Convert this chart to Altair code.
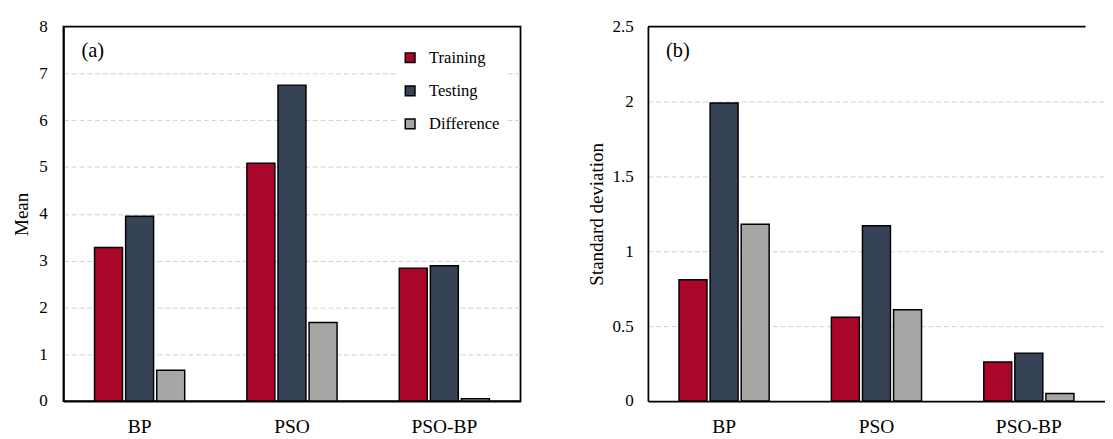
import altair as alt
import pandas as pd

FONT = "Liberation Serif"

categories = ["BP", "PSO", "PSO-BP"]
series = ["Training", "Testing", "Difference"]
colors = ["#A9062A", "#364357", "#A6A6A6"]

mean_training = [3.28, 5.08, 2.84]
mean_testing = [3.95, 6.75, 2.89]
mean_difference = [0.66, 1.68, 0.05]

std_training = [0.81, 0.56, 0.26]
std_testing = [1.99, 1.17, 0.32]
std_difference = [1.18, 0.61, 0.05]

mean_ticks = [0, 1, 2, 3, 4, 5, 6, 7, 8]
std_ticks = [0, 0.5, 1, 1.5, 2, 2.5]

panel_letters = ["(a)", "(b)"]

PLOT_H = 385


def make_df(tr, te, di):
    rows = []
    for i, c in enumerate(categories):
        for s, vals in zip(series, [tr, te, di]):
            rows.append({"Model": c, "Series": s, "Value": vals[i]})
    return pd.DataFrame(rows)


def panel(df, ytitle, ymax, yticks, letter, legend_x, legend_y, width,
          xrange=None, frame=True, title_pad=7, label_pad=16):
    if xrange is None:
        xscale = alt.Scale(paddingInner=0, paddingOuter=0)
    else:
        xscale = alt.Scale(paddingInner=0, paddingOuter=0, range=xrange)
    bars = alt.Chart(df).mark_bar(stroke="black", strokeWidth=1.5).encode(
        x=alt.X("Model:N", sort=categories, scale=xscale,
                axis=alt.Axis(title=None, labelAngle=0, labelFontSize=20,
                              labelPadding=16, ticks=False, domainColor="black",
                              domainWidth=1.8, labelColor="black", labelFont=FONT,
                              grid=False)),
        xOffset=alt.XOffset("Series:N", sort=series,
                            scale=alt.Scale(paddingInner=0.1, paddingOuter=1.0)),
        y=alt.Y("Value:Q", scale=alt.Scale(domain=[0, ymax], nice=False),
                axis=alt.Axis(values=yticks, format="~g", title=ytitle,
                              titleFontSize=19.5, titleFont=FONT,
                              titleFontWeight="normal", titleColor="black",
                              titlePadding=title_pad,
                              labelFontSize=17.5, labelFont=FONT,
                              labelColor="black", labelPadding=label_pad,
                              ticks=False, domainColor="black", domainWidth=1.8,
                              grid=True, gridDash=[5, 3], gridColor="#D0D0D0",
                              gridWidth=1,
                              gridOpacity=alt.condition(
                                  f"datum.value == 0 || datum.value == {ymax}",
                                  alt.value(0), alt.value(1)))),
        color=alt.Color("Series:N", sort=series,
                        scale=alt.Scale(domain=series, range=colors),
                        legend=alt.Legend(title=None, orient="none",
                                          legendX=legend_x, legendY=legend_y,
                                          symbolType="square", symbolSize=100,
                                          symbolStrokeColor="black",
                                          symbolStrokeWidth=1.5,
                                          symbolOpacity=1,
                                          labelFontSize=17, labelFont=FONT,
                                          labelColor="black", labelOffset=11,
                                          rowPadding=16, padding=5,
                                          fillColor="white")),
    )
    letter_text = alt.Chart(pd.DataFrame({"label": [letter]})).mark_text(
        align="left", baseline="middle", fontSize=21, font=FONT, color="black"
    ).encode(x=alt.value(18.5), y=alt.value(25.5), text="label:N")
    layers = [bars, letter_text]
    if not frame:
        top_rule = alt.Chart(pd.DataFrame({"label": [letter]})).mark_rule(
            color="black", strokeWidth=1.8
        ).encode(x=alt.value(0), x2=alt.value("width"), y=alt.value(0))
        layers.append(top_rule)
    view = alt.ViewBackground(stroke="black", strokeWidth=1.8) if frame else \
        alt.ViewBackground(stroke="transparent", strokeWidth=0)
    return alt.layer(*layers).properties(width=width, height=PLOT_H, view=view)


left = panel(make_df(mean_training, mean_testing, mean_difference),
             "Mean", 8, mean_ticks, panel_letters[0], 343, 18.5, 470,
             frame=True, title_pad=7.5, label_pad=16.5)
right = panel(make_df(std_training, std_testing, std_difference),
              "Standard deviation", 2.5, std_ticks, panel_letters[1], 321, 16.5, 450,
              xrange=[0, 470], frame=False, title_pad=6.3, label_pad=15)

chart = alt.hconcat(left, right, spacing=66).properties(
    padding={"left": 3, "top": 3, "right": 0, "bottom": 0}
).configure(font=FONT).configure_concat(spacing=66)

chart.save("out.html", embed_options={"renderer": "svg", "actions": False})
